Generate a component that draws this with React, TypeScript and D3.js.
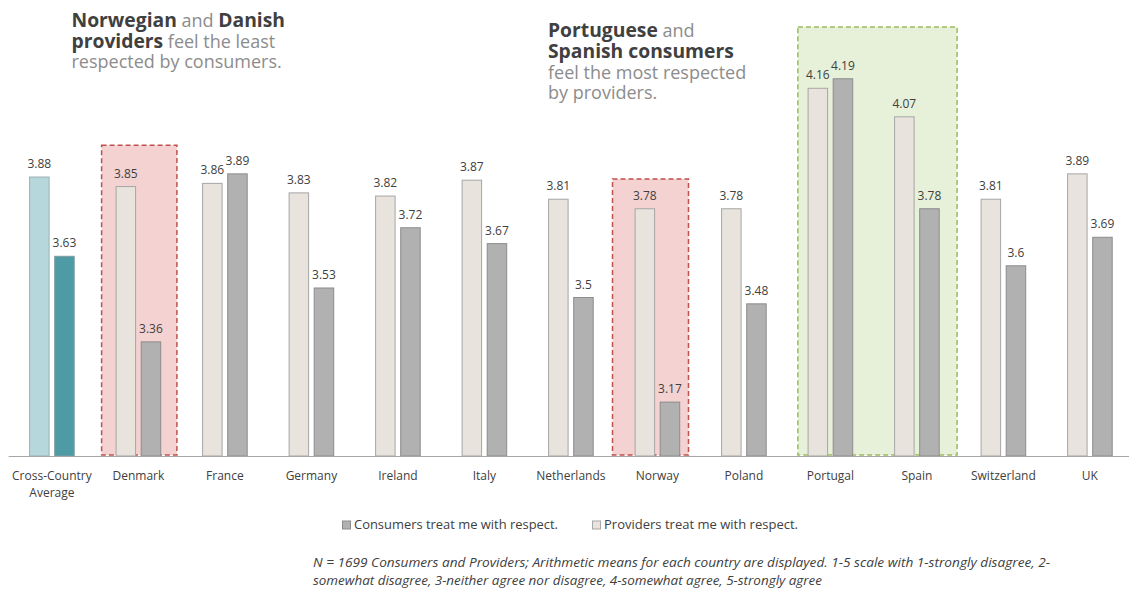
import React from "react";
import * as d3 from "d3";

const categories = [
  "Cross-Country Average", "Denmark", "France", "Germany", "Ireland", "Italy",
  "Netherlands", "Norway", "Poland", "Portugal", "Spain", "Switzerland", "UK",
];
const providers = [3.88, 3.85, 3.86, 3.83, 3.82, 3.87, 3.81, 3.78, 3.78, 4.16, 4.07, 3.81, 3.89];
const consumers = [3.63, 3.36, 3.89, 3.53, 3.72, 3.67, 3.5, 3.17, 3.48, 4.19, 3.78, 3.6, 3.69];
const providerLabels = ["3.88", "3.85", "3.86", "3.83", "3.82", "3.87", "3.81", "3.78", "3.78", "4.16", "4.07", "3.81", "3.89"];
const consumerLabels = ["3.63", "3.36", "3.89", "3.53", "3.72", "3.67", "3.5", "3.17", "3.48", "4.19", "3.78", "3.6", "3.69"];

// highlight boxes: first category, last category, top value
const highlightFrom = ["Denmark", "Norway", "Portugal"];
const highlightTo = ["Denmark", "Norway", "Spain"];
const highlightTop = [3.98, 3.874, 4.353];
const highlightKind = ["red", "red", "green"];

const W = 1129;
const H = 590;
const FONT = "'Open Sans', 'DejaVu Sans', sans-serif";

// headline lines: segments [text, bold]
const head1: [string, boolean][][] = [
  [["Norwegian", true], [" and ", false], ["Danish", true]],
  [["providers", true], [" feel the least", false]],
  [["respected by consumers.", false]],
];
const head2: [string, boolean][][] = [
  [["Portuguese", true], [" and", false]],
  [["Spanish consumers", true]],
  [["feel the most respected", false]],
  [["by providers.", false]],
];

const BOLD_FS = 19.3;
const NORM_FS = 18;

let ctx: CanvasRenderingContext2D | null = null;
function measure(t: string, bold: boolean): number {
  if (!ctx) {
    const c = document.createElement("canvas");
    ctx = c.getContext("2d");
  }
  if (!ctx) return t.length * 9;
  ctx.font = `${bold ? "bold " : ""}${bold ? BOLD_FS : NORM_FS}px 'Open Sans'`;
  return ctx.measureText(t).width;
}

export default function App() {
  const x = d3.scaleBand<string>().domain(categories).range([8.65, 8.65 + 13 * 86.5]).padding(0);
  const y = d3.scaleLinear().domain([3, 4]).range([456, 139]);
  const bw = 19.5;
  const dark = "#404040";
  const grey = "#8c8c8c";

  const boxPad: Record<string, [number, number]> = {
    Denmark: [-36.8, 38.5],
    Norway: [-44.9, 31.1],
    Portugal: [-32.5, 0],
    Spain: [0, 40.2],
  };

  const center = (c: string) => (x(c) as number) + x.bandwidth() / 2;

  const headline = (lines: [string, boolean][][], x0: number, y0: number, lh: number, key: string) =>
    lines.map((segs, li) => {
      let cx = x0;
      return segs.map(([t, b], si) => {
        const px = cx;
        cx += measure(t, b);
        const trimmed = t.replace(/^ +/, "");
        const lead = t.length - trimmed.length;
        const offs = lead > 0 ? measure(" ".repeat(lead), b) : 0;
        return (
          <text key={`${key}-${li}-${si}`} x={px + offs} y={y0 + li * lh}
            fontSize={b ? BOLD_FS : NORM_FS} fontWeight={b ? "bold" : "normal"}
            fill={b ? dark : grey}>
            {trimmed.trimEnd()}
          </text>
        );
      });
    });

  return (
    <svg width={W} height={H} style={{ position: "absolute", left: 0, top: 0, background: "#fff" }} fontFamily={FONT}>
      {/* highlight boxes */}
      {highlightFrom.map((f, i) => {
        const x0 = center(f) + boxPad[f][0];
        const x1 = center(highlightTo[i]) + boxPad[highlightTo[i]][1];
        const y0 = y(highlightTop[i]);
        const y1 = y(3) - 1;
        const red = highlightKind[i] === "red";
        return (
          <rect key={f} x={x0} y={y0} width={x1 - x0} height={y1 - y0}
            fill={red ? "#f4d2d1" : "#e7f0d9"}
            stroke={red ? "#c0504d" : "#9bbb59"}
            strokeWidth={1.5} strokeDasharray="5,3" />
        );
      })}

      {/* bars */}
      {categories.map((c, i) => {
        const cx = center(c);
        const avg = i === 0;
        return (
          <g key={c}>
            <rect x={cx - 22.3} y={y(providers[i])} width={bw} height={y(3) - y(providers[i])}
              fill={avg ? "#b6d8dc" : "#e8e4dd"} stroke={avg ? "#9ab0b3" : "#a6a6a6"} strokeWidth={1} />
            <rect x={cx + 2.8} y={y(consumers[i])} width={bw} height={y(3) - y(consumers[i])}
              fill={avg ? "#4e9ba5" : "#b1b1b1"} stroke={avg ? "#7e9da1" : "#8c8c8c"} strokeWidth={1} />
            <text x={cx - 22.3 + bw / 2} y={y(providers[i]) - 9} textAnchor="middle" fontSize={12} fill={dark}>
              {providerLabels[i]}
            </text>
            <text x={cx + 2.8 + bw / 2} y={y(consumers[i]) - 9} textAnchor="middle" fontSize={12} fill={dark}>
              {consumerLabels[i]}
            </text>
          </g>
        );
      })}

      {/* axis line */}
      <line x1={8.65} x2={W} y1={y(3) + 0.5} y2={y(3) + 0.5} stroke="#a6a6a6" strokeWidth={1} />

      {/* category labels */}
      {categories.map((c) => {
        const cx = center(c);
        const parts = c === "Cross-Country Average" ? ["Cross-Country", "Average"] : [c];
        return parts.map((p, j) => (
          <text key={c + j} x={cx} y={480 + j * 17} textAnchor="middle" fontSize={12} fill={dark}>{p}</text>
        ));
      })}

      {/* headline annotations */}
      {headline(head1, 71.5, 27, 20.5, "h1")}
      {headline(head2, 548, 37, 20.8, "h2")}

      {/* legend */}
      <rect x={342.5} y={521} width={8} height={8} fill="#b1b1b1" stroke="#8c8c8c" strokeWidth={1} />
      <text x={354} y={529} fontSize={12.5} fill={dark} textLength={204} lengthAdjust="spacingAndGlyphs">Consumers treat me with respect.</text>
      <rect x={592.5} y={521} width={8} height={8} fill="#e8e4dd" stroke="#a6a6a6" strokeWidth={1} />
      <text x={604} y={529} fontSize={12.5} fill={dark} textLength={194} lengthAdjust="spacingAndGlyphs">Providers treat me with respect.</text>

      {/* footnote */}
      <text x={313} y={567} fontSize={12} fontStyle="italic" fill={dark} textLength={737} lengthAdjust="spacingAndGlyphs">
        N = 1699 Consumers and Providers; Arithmetic means for each country are displayed. 1-5 scale with 1-strongly disagree, 2-
      </text>
      <text x={313} y={585} fontSize={12} fontStyle="italic" fill={dark} textLength={509} lengthAdjust="spacingAndGlyphs">
        somewhat disagree, 3-neither agree nor disagree, 4-somewhat agree, 5-strongly agree
      </text>
    </svg>
  );
}
